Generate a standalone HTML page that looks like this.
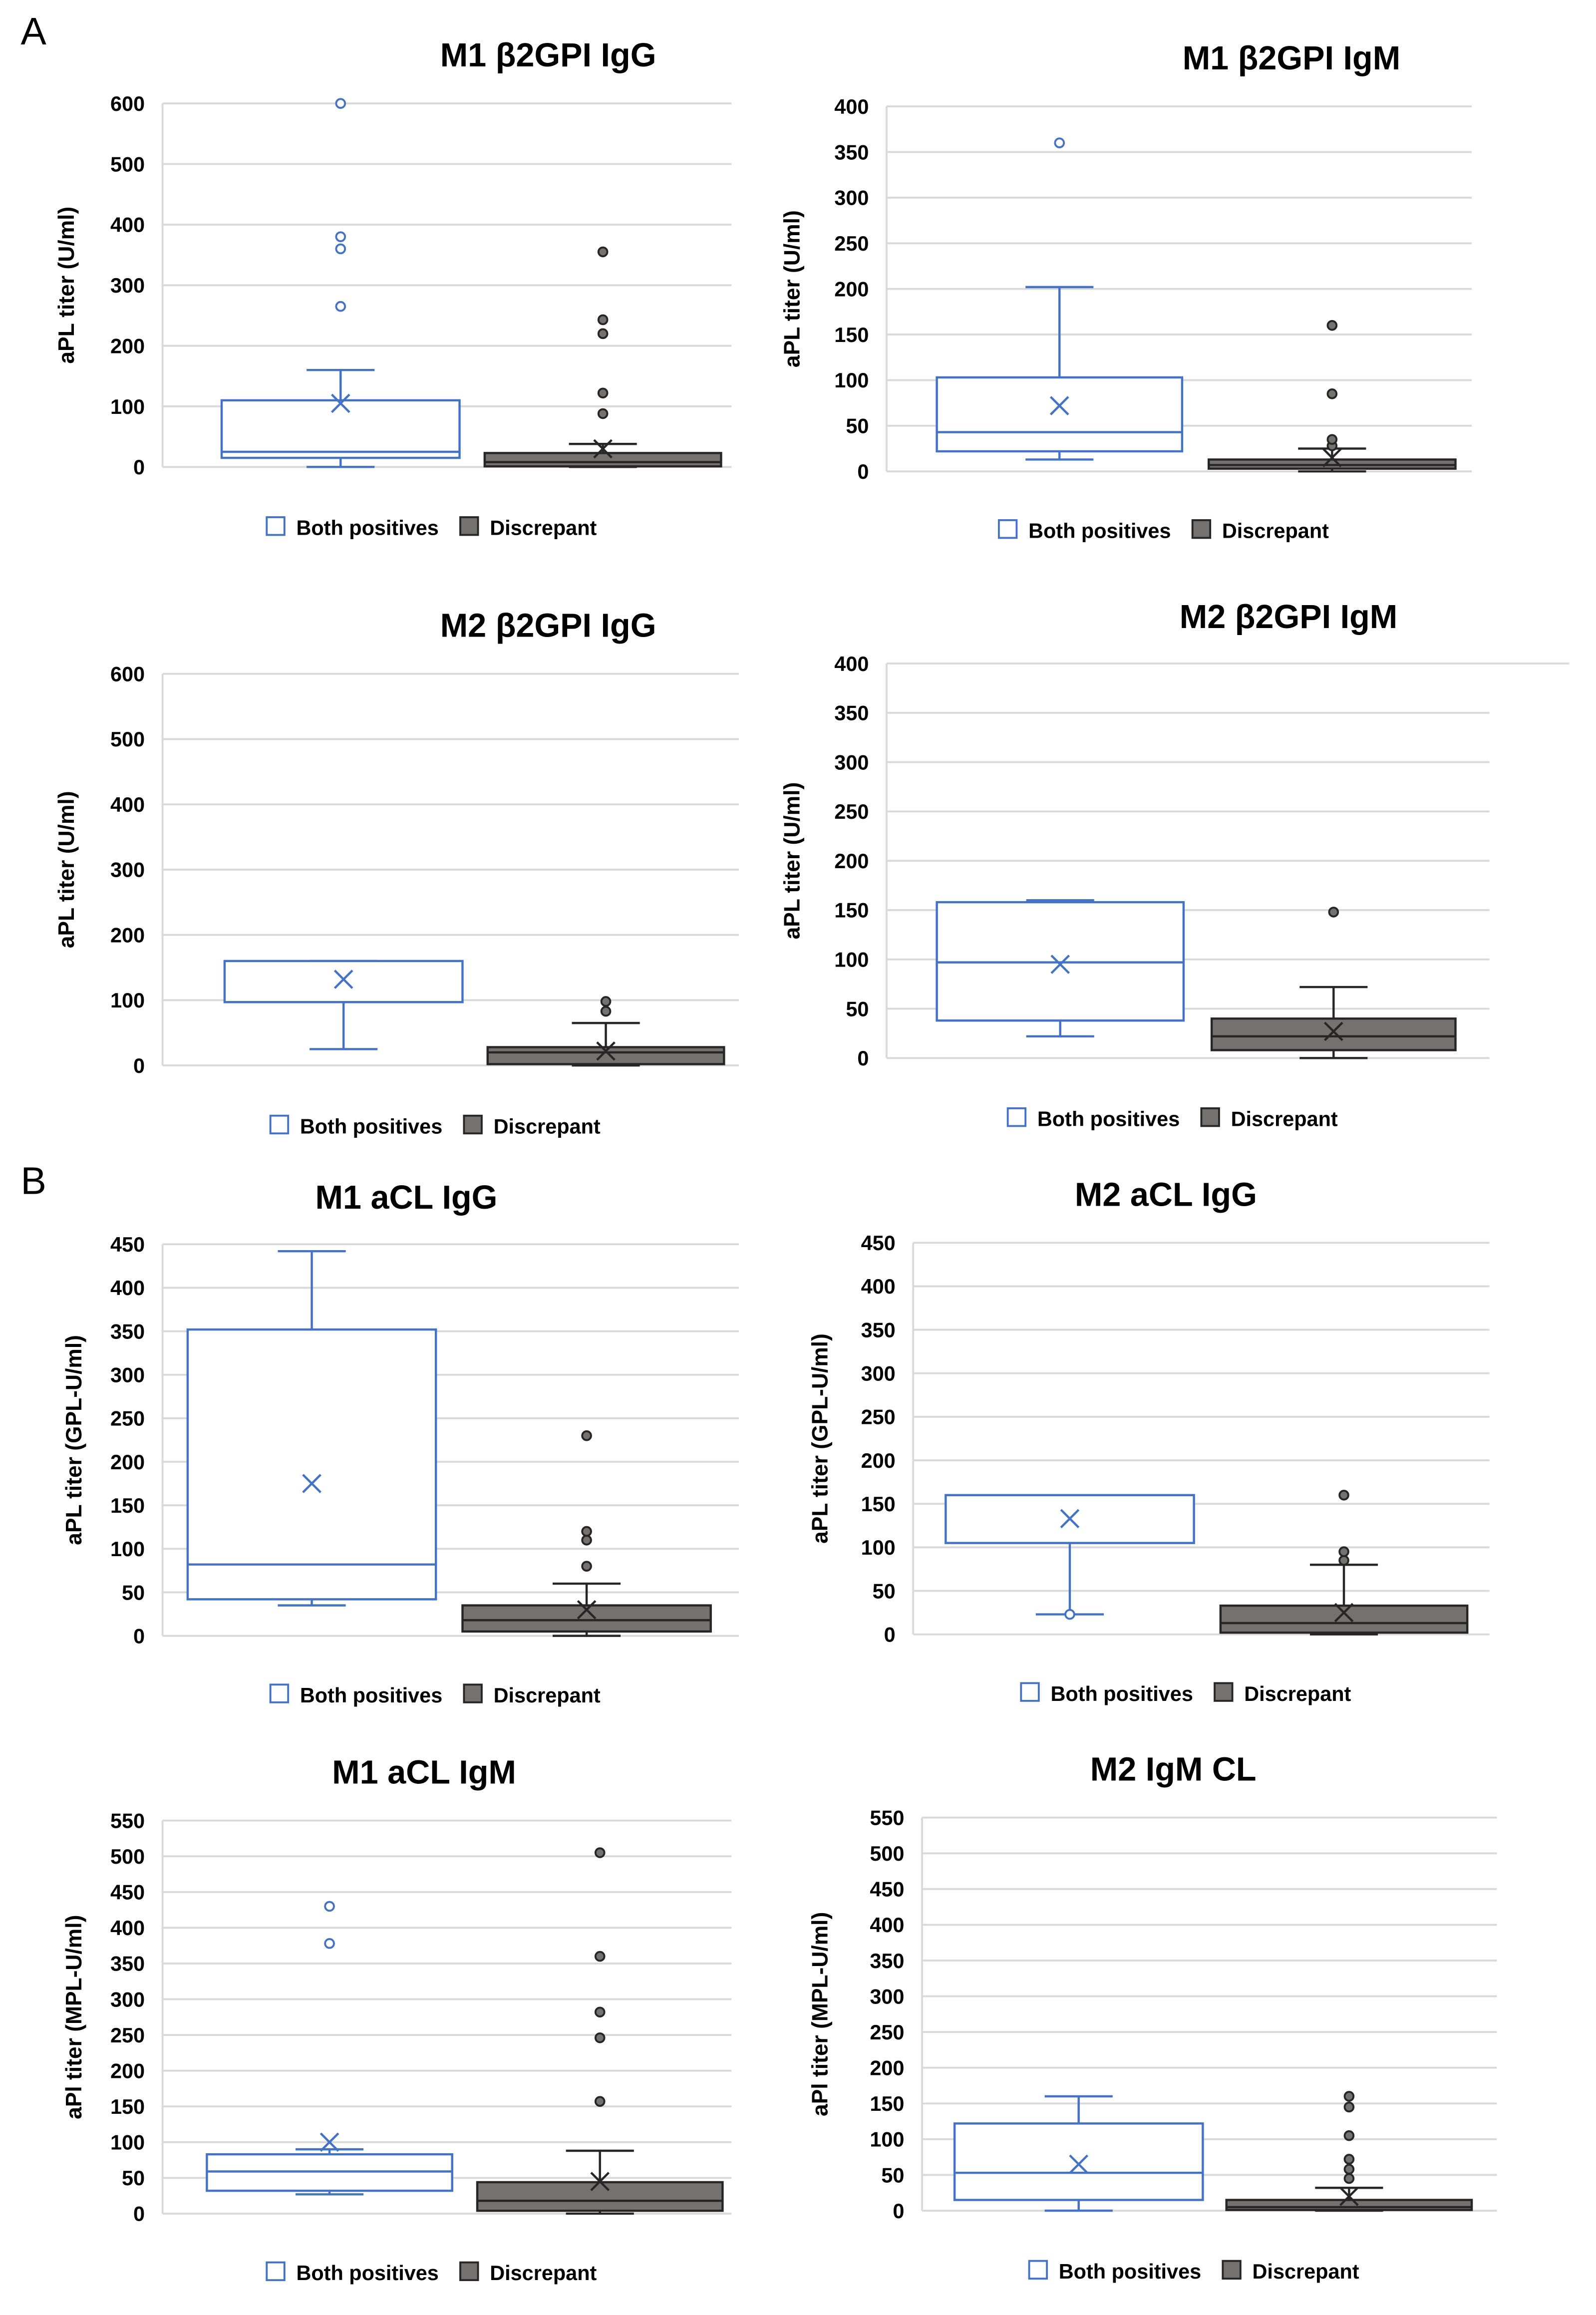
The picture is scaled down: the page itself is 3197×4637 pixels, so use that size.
<!DOCTYPE html>
<html><head><meta charset="utf-8"><style>
html,body{margin:0;padding:0;background:#fff;}
svg{display:block;}
text{font-family:"Liberation Sans",sans-serif;font-weight:bold;fill:#000;}
</style></head><body>
<svg id="fig" width="3197" height="4637" viewBox="0 0 1080.1 1566.6" xmlns="http://www.w3.org/2000/svg">
<text x="14" y="30" font-size="26" font-weight="normal" style="font-weight:normal">A</text>
<text x="14" y="808" font-size="26" style="font-weight:normal">B</text>
</svg>
<script>
// stats arrays: [q1, median, q3, whiskerLow, whiskerHigh, mean]
const titles = ["M1 β2GPI IgG","M1 β2GPI IgM","M2 β2GPI IgG","M2 β2GPI IgM","M1 aCL IgG","M2 aCL IgG","M1 aCL IgM","M2 IgM CL"];
const yLabels = ["aPL titer (U/ml)","aPL titer (U/ml)","aPL titer (U/ml)","aPL titer  (U/ml)","aPL titer (GPL-U/ml)","aPL titer (GPL-U/ml)","aPl titer (MPL-U/ml)","aPl titer (MPL-U/ml)"];
const yMaxes = [600,400,600,400,450,450,550,550];
const yStepsArr = [100,50,100,50,50,50,50,50];
const bothStats = [[15,25,110,0,160,105],[22,43,103,13,202,72],[97,97,160,25,160,132],[38,97,158,22,160,95],[42,82,352,35,442,175],[105,160,160,23,160,133],[32,59,83,27,90,100],[15,53,122,0,160,65]];
const discStats = [[1,8,23,0,38,30],[3,7,13,0,25,15],[2,20,28,0,65,22],[8,22,40,0,72,27],[5,18,35,0,60,30],[2,13,33,0,80,25],[4,18,44,0,88,45],[1,5,15,0,32,20]];
const bothOutliers = [[265,360,380,600],[360],[],[],[],[23],[378,430],[]];
const discOutliers = [[88,122,220,243,355],[28,35,85,160],[83,98],[148],[80,110,120,230],[85,95,160],[157,246,282,360,505],[45,58,72,105,145,160]];

// layout (figure units)
const L = [
 {x0:110,x1:495,yT:70,yB:316,tx:371,ty:45,lx:50,leg:357,b1:[150,311],b2:[328,488]},
 {x0:600,x1:996,yT:72,yB:319,tx:874,ty:47,lx:541,leg:359,b1:[634,800],b2:[818,985]},
 {x0:110,x1:500,yT:456,yB:721,tx:371,ty:431,lx:50,leg:762,b1:[152,313],b2:[330,490]},
 {x0:600,x1:1008,yT:449,yB:716,tx:872,ty:425,lx:541,leg:757,b1:[634,801],b2:[820,985],ext:1062},
 {x0:110,x1:500,yT:842,yB:1107,tx:275,ty:818,lx:55,leg:1147,b1:[127,295],b2:[313,481]},
 {x0:618,x1:1008,yT:841,yB:1106,tx:789,ty:816,lx:560,leg:1146,b1:[640,808],b2:[826,993]},
 {x0:110,x1:495,yT:1232,yB:1498,tx:287,ty:1207,lx:55,leg:1538,b1:[140,306],b2:[323,489]},
 {x0:624,x1:1013,yT:1230,yB:1496,tx:794,ty:1205,lx:560,leg:1537,b1:[646,814],b2:[830,996]}
];
const NS="http://www.w3.org/2000/svg";
const svg=document.getElementById('fig');
function mk(tag,attrs,parent){const e=document.createElementNS(NS,tag);for(const k in attrs)e.setAttribute(k,attrs[k]);(parent||svg).appendChild(e);return e;}
const BLUE="#4472C4", GREY="#767171", DARK="#262626";

for(let i=0;i<8;i++){
  const p=L[i];
  const g=mk('g',{});
  
  
  const y=v=>p.yB-(v/yMaxes[i])*(p.yB-p.yT);
  const t=mk('text',{x:p.tx,y:p.ty,'font-size':22.5,'text-anchor':'middle'},g);
  t.textContent=titles[i];
  
  
  for(let v=0;v<=yMaxes[i];v+=yStepsArr[i]){
    const gl=mk('line',{x1:p.x0,x2:(v===yMaxes[i]&&p.ext)?p.ext:p.x1,y1:y(v),y2:y(v),stroke:'#d9d9d9','stroke-width':1.3},g);
    
    
    const tl=mk('text',{x:p.x0-12,y:y(v)+5,'font-size':14,'text-anchor':'end'},g);
    tl.textContent=v;
    
    
  }
  const ax=mk('line',{x1:p.x0,x2:p.x0,y1:p.yT,y2:p.yB,stroke:'#d9d9d9','stroke-width':1.3},g);
  
  
  const cy=(p.yT+p.yB)/2;
  const yl=mk('text',{x:p.lx,y:cy,'font-size':15,'text-anchor':'middle',transform:`rotate(-90 ${p.lx} ${cy})`},g);
  yl.textContent=yLabels[i];
  
  
  [[bothStats[i],bothOutliers[i],p.b1,BLUE,'#fff',BLUE,'both'],[discStats[i],discOutliers[i],p.b2,DARK,GREY,DARK,'disc']].forEach(([s,out,bx,sc,fill,pc,nm])=>{
    const cx=(bx[0]+bx[1])/2, cw=23;
    const bg=mk('g',{},g);
    
    
    mk('line',{x1:cx,x2:cx,y1:y(s[3]),y2:y(s[0]),stroke:sc,'stroke-width':1.5},bg);
    mk('line',{x1:cx,x2:cx,y1:y(s[2]),y2:y(s[4]),stroke:sc,'stroke-width':1.5},bg);
    mk('line',{x1:cx-cw,x2:cx+cw,y1:y(s[3]),y2:y(s[3]),stroke:sc,'stroke-width':1.5},bg);
    mk('line',{x1:cx-cw,x2:cx+cw,y1:y(s[4]),y2:y(s[4]),stroke:sc,'stroke-width':1.5},bg);
    mk('rect',{x:bx[0],y:y(s[2]),width:bx[1]-bx[0],height:Math.max(0.5,y(s[0])-y(s[2])),fill:fill,stroke:sc,'stroke-width':1.5},bg);
    mk('line',{x1:bx[0],x2:bx[1],y1:y(s[1]),y2:y(s[1]),stroke:sc,'stroke-width':1.5},bg);
    const my=y(s[5]),d=6;
    const mx=mk('path',{d:`M${cx-d} ${my-d}L${cx+d} ${my+d}M${cx-d} ${my+d}L${cx+d} ${my-d}`,stroke:sc,'stroke-width':1.5,fill:'none'},bg);
    
    
    out.forEach(v=>{
      const c=mk('circle',{cx:cx,cy:y(v),r:3,fill:nm==='both'?'#fff':GREY,stroke:pc,'stroke-width':1.3},bg);
      
      
    });
  });
  const lg=mk('g',{},g);
  
  
  const lx=(p.x0+p.x1)/2-122;
  mk('rect',{x:lx,y:p.leg-7,width:12,height:12,fill:'#fff',stroke:BLUE,'stroke-width':1.3},lg);
  const t1=mk('text',{x:lx+20,y:p.leg+5,'font-size':14},lg);t1.textContent='Both positives';
  
  
  mk('rect',{x:lx+131,y:p.leg-7,width:12,height:12,fill:GREY,stroke:DARK,'stroke-width':1.3},lg);
  const t2=mk('text',{x:lx+151,y:p.leg+5,'font-size':14},lg);t2.textContent='Discrepant';
  
  
}
</script>
</body></html>
